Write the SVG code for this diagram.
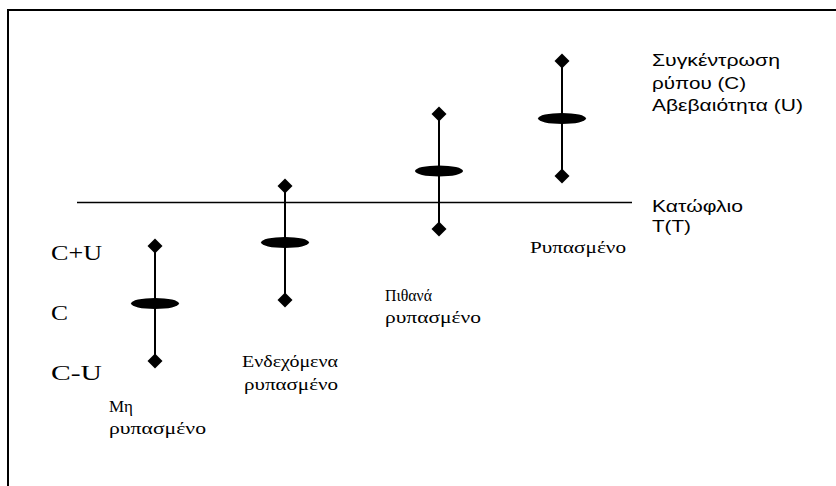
<svg xmlns="http://www.w3.org/2000/svg" width="836" height="486" viewBox="0 0 836 486">
<defs>
<style>
.frame{fill:none;stroke:#000;stroke-width:2}
.bar{stroke:#000;stroke-width:2;fill:none}
.mean{fill:#000}
.sans{font-family:"Liberation Sans",Arial,sans-serif;font-size:17px;fill:#000}
.serif{font-family:"Liberation Serif","DejaVu Serif","Times New Roman",serif;fill:#000}
.big{font-size:22px}
.small{font-size:17px}
</style>
<path id="d" d="M0,-7.5 L7.5,0 L0,7.5 L-7.5,0 Z"/>
</defs>
<rect width="836" height="486" fill="#fff"/>
<path class="frame" d="M8,486 V10 H836"/>
<g id="connectors">
<line x1="77" y1="202.5" x2="632" y2="202.5" stroke="#000" stroke-width="1.6"/>
</g>
<g id="bar1">
<line class="bar" x1="155" y1="246" x2="155" y2="361"/>
<use href="#d" x="155" y="246"/>
<use href="#d" x="155" y="361"/>
<ellipse class="mean" cx="155" cy="303.5" rx="24" ry="5.5"/>
</g>
<g id="bar2">
<line class="bar" x1="285" y1="186" x2="285" y2="300"/>
<use href="#d" x="285" y="186"/>
<use href="#d" x="285" y="300"/>
<ellipse class="mean" cx="285" cy="242.5" rx="24" ry="5.5"/>
</g>
<g id="bar3">
<line class="bar" x1="439" y1="114" x2="439" y2="229"/>
<use href="#d" x="439" y="114"/>
<use href="#d" x="439" y="229"/>
<ellipse class="mean" cx="439" cy="171" rx="24" ry="5.5"/>
</g>
<g id="bar4">
<line class="bar" x1="562" y1="61" x2="562" y2="176"/>
<use href="#d" x="562" y="61"/>
<use href="#d" x="562" y="176"/>
<ellipse class="mean" cx="562" cy="118.5" rx="24" ry="5.5"/>
</g>
<g id="legend">
<text class="sans" x="652" y="66" textLength="128" lengthAdjust="spacingAndGlyphs">Συγκέντρωση</text>
<text class="sans" x="652" y="89" textLength="94" lengthAdjust="spacingAndGlyphs">ρύπου (C)</text>
<text class="sans" x="652" y="111" textLength="151" lengthAdjust="spacingAndGlyphs">Αβεβαιότητα (U)</text>
</g>
<g id="threshold">
<text class="sans" x="652" y="212" textLength="91" lengthAdjust="spacingAndGlyphs">Κατώφλιο</text>
<text class="sans" x="652" y="232" textLength="39" lengthAdjust="spacingAndGlyphs">T(T)</text>
</g>
<g id="axis">
<text class="serif big" x="51" y="260" textLength="51" lengthAdjust="spacingAndGlyphs">C+U</text>
<text class="serif big" x="51" y="320" textLength="17" lengthAdjust="spacingAndGlyphs">C</text>
<text class="serif big" x="51" y="380" textLength="51" lengthAdjust="spacingAndGlyphs">C-U</text>
</g>
<g id="label1">
<text class="serif small" x="109" y="412" textLength="24" lengthAdjust="spacingAndGlyphs">Μη</text>
<text class="serif small" x="109" y="434" textLength="97" lengthAdjust="spacingAndGlyphs">ρυπασμένο</text>
</g>
<g id="label2">
<text class="serif small" x="242" y="367" textLength="96" lengthAdjust="spacingAndGlyphs">Ενδεχόμενα</text>
<text class="serif small" x="244" y="390" textLength="94" lengthAdjust="spacingAndGlyphs">ρυπασμένο</text>
</g>
<g id="label3">
<text class="serif small" x="385" y="301" textLength="47" lengthAdjust="spacingAndGlyphs">Πιθανά</text>
<text class="serif small" x="385" y="323" textLength="96" lengthAdjust="spacingAndGlyphs">ρυπασμένο</text>
</g>
<g id="label4">
<text class="serif small" x="530" y="253" textLength="96" lengthAdjust="spacingAndGlyphs">Ρυπασμένο</text>
</g>
</svg>
